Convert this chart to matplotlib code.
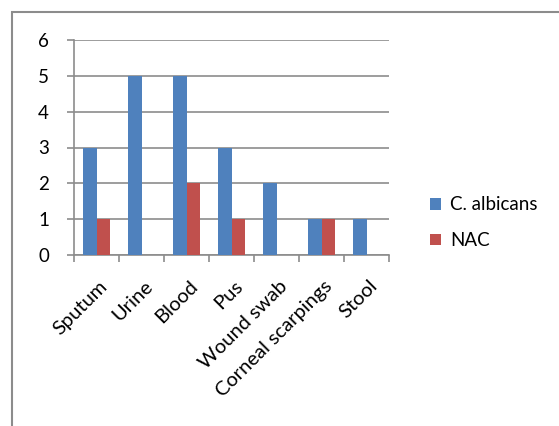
import matplotlib.pyplot as plt
import numpy as np
from matplotlib import rcParams
from matplotlib.patches import Rectangle

rcParams.update({'font.family': ['Lato', 'DejaVu Sans'], 'font.size': 14})

# specimen counts per sample type
sites = ['Sputum', 'Urine', 'Blood', 'Pus', 'Wound swab', 'Corneal scarpings', 'Stool']
albicans = [3, 5, 5, 3, 2, 1, 1]
nac = [1, 0, 2, 1, 0, 1, 0]
names = ['C. albicans', 'NAC']
cos = ['#4F81BD', '#C0504D']
gc = '#8c8c8c'

fig = plt.figure(figsize=(5.59, 4.26), dpi=100)
W, H = 559, 426

# outer chart border (runs off the right and bottom edges)
fig.patches.append(Rectangle((12 / W, -0.1), 1.2, 1 - 12 / H + 0.1, transform=fig.transFigure,
                             fill=False, edgecolor=gc, linewidth=1.5))

ax = fig.add_axes([74 / W, 1 - 255 / H, (389 - 74) / W, (255 - 40) / H])

x = np.arange(len(sites))
w = 0.29
ax.bar(x - w / 2, albicans, w, color=cos[0], label=names[0], zorder=3)
ax.bar(x + w / 2, nac, w, color=cos[1], label=names[1], zorder=3)

ax.set_xlim(-0.5, len(sites) - 0.5)
ax.set_ylim(0, 6)
ax.set_yticks(range(7))
ax.yaxis.grid(True, color=gc, linewidth=1.2, zorder=0)

ax.set_xticks(x + 0.05)
ax.set_xticklabels(sites, rotation=45, ha='right', rotation_mode='anchor', fontsize=14.5)
ax.tick_params(axis='x', length=0, pad=16)
ax.set_xticks(np.arange(-0.5, len(sites)), minor=True)
ax.tick_params(axis='x', which='minor', length=5, color=gc, width=1.2)
ax.tick_params(axis='y', length=5, color=gc, width=1.2, pad=13, labelsize=13.5)

for s in ['top', 'right']:
    ax.spines[s].set_visible(False)
for s in ['left', 'bottom']:
    ax.spines[s].set_color(gc)
    ax.spines[s].set_linewidth(1.2)

ax.legend(loc='center left', bbox_to_anchor=(1.075, 0.15), frameon=False,
          handlelength=0.6, handleheight=0.6, handletextpad=0.5,
          labelspacing=1.0, fontsize=13.5)

plt.savefig('out.png', dpi=100)
